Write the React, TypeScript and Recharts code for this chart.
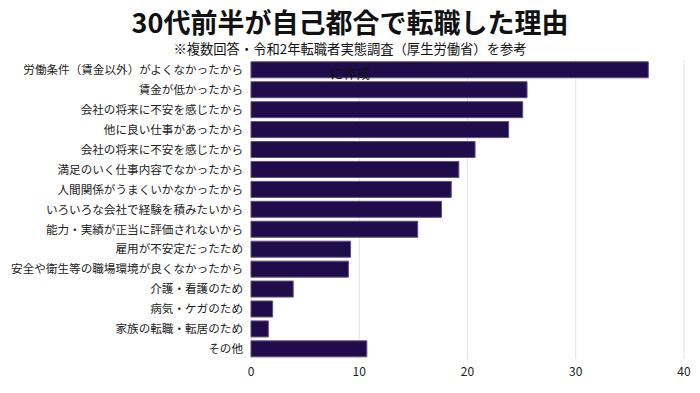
import { Bar, BarChart, CartesianGrid, XAxis, YAxis } from 'recharts'

const reasons = [
  '労働条件（賃金以外）がよくなかったから',
  '賃金が低かったから',
  '会社の将来に不安を感じたから',
  '他に良い仕事があったから',
  '会社の将来に不安を感じたから',
  '満足のいく仕事内容でなかったから',
  '人間関係がうまくいかなかったから',
  'いろいろな会社で経験を積みたいから',
  '能力・実績が正当に評価されないから',
  '雇用が不安定だったため',
  '安全や衛生等の職場環境が良くなかったから',
  '介護・看護のため',
  '病気・ケガのため',
  '家族の転職・転居のため',
  'その他',
]

const percents = [36.7, 25.5, 25.1, 23.8, 20.7, 19.2, 18.5, 17.6, 15.4, 9.2, 9.0, 3.9, 2.0, 1.6, 10.7]

const xTicks = [0, 10, 20, 30, 40]

const title = '30代前半が自己都合で転職した理由'
const subtitleLines = ['※複数回答・令和2年転職者実態調査（厚生労働省）を参考', 'に作成']

const font = '"Noto Sans CJK JP", "Noto Sans", sans-serif'

const App = () => {
  // recharts wants rows; keys are index-based since two reasons share a label
  const data = reasons.map((name, i) => ({ key: `${i}`, name, value: percents[i] }))

  return (
    <div
      style={{
        position: 'absolute',
        left: 0,
        top: 0,
        width: 700,
        height: 393,
        background: '#fff',
        fontFamily: font,
      }}
    >
      <div
        style={{
          position: 'absolute',
          top: 4,
          width: 700,
          textAlign: 'center',
          fontSize: 27,
          fontWeight: 700,
          color: '#111',
          lineHeight: '36px',
        }}
      >
        {title}
      </div>
      <BarChart
        width={700}
        height={393}
        layout="vertical"
        data={data}
        margin={{ top: 60, right: 16, bottom: 4, left: 6 }}
        barCategoryGap="9%"
      >
        <CartesianGrid horizontal={false} stroke="#e2e2e2" />
        <XAxis
          type="number"
          domain={[0, 40]}
          ticks={xTicks}
          axisLine={false}
          tickLine={false}
          tick={{ fontSize: 12, fill: '#222', fontFamily: font }}
        />
        <YAxis
          type="category"
          dataKey="key"
          width={245}
          interval={0}
          axisLine={false}
          tickLine={false}
          tickFormatter={(k) => reasons[Number(k)]}
          tick={{ fontSize: 11.6, fill: '#222', fontFamily: font }}
        />
        <Bar dataKey="value" fill="#200c4a" stroke="#5e4f82" strokeWidth={1} isAnimationActive={false} />
      </BarChart>
      <div
        style={{
          position: 'absolute',
          top: 41,
          width: 700,
          textAlign: 'center',
          fontSize: 13.3,
          color: '#111',
          lineHeight: '15px',
        }}
      >
        <div>{subtitleLines[0]}</div>
        <div style={{ marginTop: 9 }}>{subtitleLines[1]}</div>
      </div>
    </div>
  )
}

export default App
